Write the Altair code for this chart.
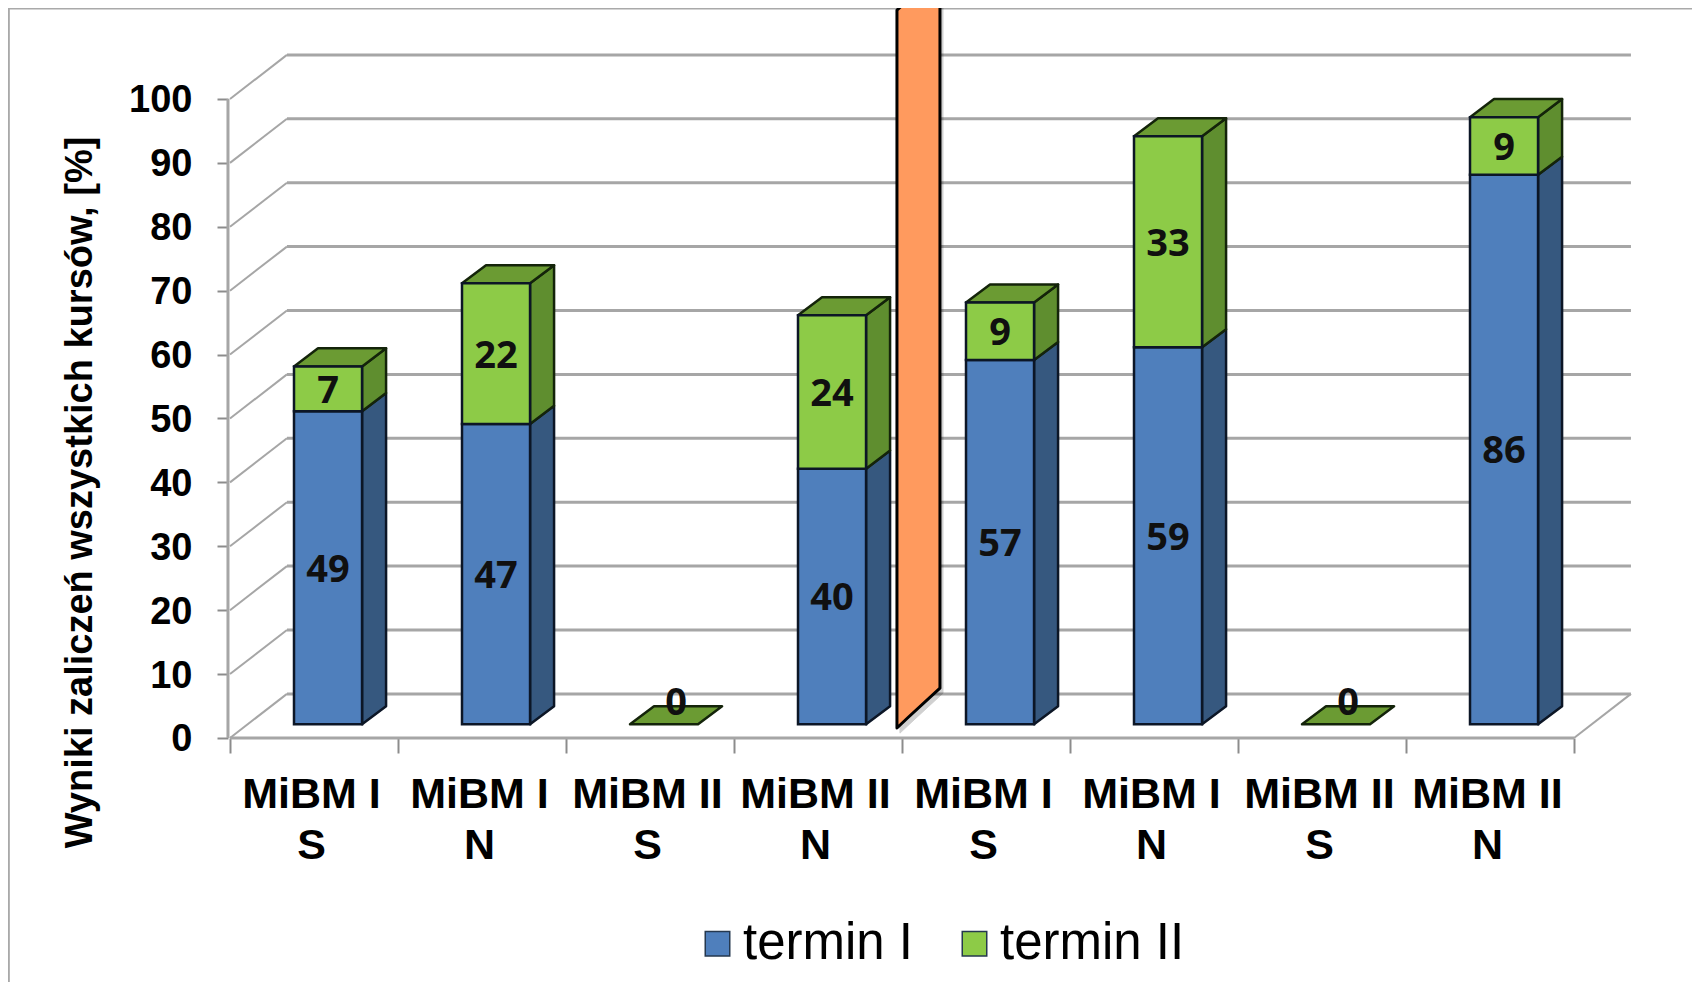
import json
import altair as alt
import pandas as pd

categories = ["MiBM I|S", "MiBM I|N", "MiBM II|S", "MiBM II|N", "MiBM I|S", "MiBM I|N", "MiBM II|S", "MiBM II|N"]
termin_1 = [49, 47, 0, 40, 57, 59, 0, 86]
termin_2 = [7, 22, 0, 24, 9, 33, 0, 9]
y_ticks = list(range(0, 101, 10))
series_names = ["termin I", "termin II"]
series_colors = ["#4F7FBC", "#8DCB47"]

# chart geometry, in data units (category widths / percent)
X_DOMAIN = [-1.3214, 8.7024]
Y_DOMAIN = [-38.19, 114.24]
WALL_DX, WALL_DY = 0.339, 6.9
BAR_OFFSET, BAR_WIDTH = 0.381, 0.405
DEPTH_DX, DEPTH_DY = 0.143, 2.83
LIFT = 2.15

x_scale = alt.Scale(domain=X_DOMAIN, nice=False, zero=False)
y_scale = alt.Scale(domain=Y_DOMAIN, nice=False, zero=False)

# x axis labels and ticks
label_expr = f"split({json.dumps(categories)}[datum.value] || '', '|')"
x_axis = alt.Axis(values=list(range(9)), labelExpr=label_expr, labelOffset=81, labelFontSize=43,
                  labelFont="Liberation Sans", labelFontWeight="bold", labelColor="#000000",
                  labelPadding=20, labelLineHeight=51, labelBaseline="top", labelOverlap=False,
                  labelFlush=False, labelBound=False, labelLimit=500, labelAngle=0,
                  tickColor="#8c8c8c", tickSize=15, tickWidth=2, domain=False, grid=False,
                  offset=-244, title=None)
y_axis = alt.Axis(values=y_ticks, labelFontSize=38, labelFont="Liberation Sans", labelFontWeight="bold",
                  labelColor="#000000", labelPadding=25, labelOffset=2, labelOverlap=False, labelFlush=False,
                  labelBound=False, tickColor="#8c8c8c", tickSize=11, tickWidth=2, domain=False, grid=False,
                  offset=-220, title="Wyniki zaliczeń wszystkich kursów, [%]", titleFont="Liberation Sans",
                  titleFontSize=38, titleFontWeight="bold", titleColor="#000000", titleAngle=270,
                  titleX=-148, titleY=484, titleAlign="center", titleBaseline="middle")

X = alt.X("x:Q", scale=x_scale, axis=x_axis)
Y = alt.Y("y:Q", scale=y_scale, axis=y_axis)


def lines(rows, color, width):
    df = pd.DataFrame(rows, columns=["id", "x", "y"])
    return alt.Chart(df).mark_line(color=color, strokeWidth=width).encode(x=X, y=Y, detail="id:N")


grid_rows, diag_rows = [], []
for v in y_ticks:
    grid_rows += [(f"g{v}", WALL_DX, v + WALL_DY), (f"g{v}", 8 + WALL_DX, v + WALL_DY)]
    diag_rows += [(f"d{v}", 0, v), (f"d{v}", WALL_DX, v + WALL_DY)]
diag_rows += [("r", 8, 0), ("r", 8 + WALL_DX, WALL_DY)]
front_rows = [("a", 0, 0), ("a", 8, 0), ("b", -0.012, 0), ("b", -0.012, 100)]
frame_rows = [("t", X_DOMAIN[0], Y_DOMAIN[1]), ("t", X_DOMAIN[1], Y_DOMAIN[1]),
              ("l", X_DOMAIN[0] + 0.002, Y_DOMAIN[0]), ("l", X_DOMAIN[0] + 0.002, Y_DOMAIN[1])]

front, sides, tops, texts = [], {0: [], 1: []}, [], []
for i, (a, b) in enumerate(zip(termin_1, termin_2)):
    x0 = i + BAR_OFFSET
    x1 = x0 + BAR_WIDTH
    stack = [(0, a), (a, a + b)]
    for s, (lo, hi) in enumerate(stack):
        val = [a, b][s]
        if val > 0:
            front.append(dict(x=x0, x2=x1, y=lo + LIFT, y2=hi + LIFT, term=series_names[s]))
            sides[s] += [
                dict(id=f"{i}", x=x1, y=lo + LIFT, y2=hi + LIFT),
                dict(id=f"{i}", x=x1 + DEPTH_DX, y=lo + LIFT + DEPTH_DY, y2=hi + LIFT + DEPTH_DY),
            ]
            texts.append(dict(x=(x0 + x1) / 2, y=(lo + hi) / 2 + LIFT, label=str(val)))
    top = a + b + LIFT
    tops += [
        dict(id=f"{i}", x=x0, y=top, y2=top),
        dict(id=f"{i}", x=x0 + DEPTH_DX, y=top, y2=top + DEPTH_DY),
        dict(id=f"{i}", x=x1, y=top, y2=top + DEPTH_DY),
        dict(id=f"{i}", x=x1 + DEPTH_DX, y=top + DEPTH_DY, y2=top + DEPTH_DY),
    ]
    if a + b == 0:
        texts.append(dict(x=(x0 + x1 + DEPTH_DX) / 2, y=LIFT + 3.6, label="0"))


def area(rows, fill, stroke, width=2.5, opacity=1):
    return alt.Chart(pd.DataFrame(rows)).mark_area(
        fill=fill, stroke=stroke, strokeWidth=width, strokeJoin="round", opacity=opacity
    ).encode(x=X, y=alt.Y("y:Q", scale=y_scale, axis=y_axis, stack=None), y2="y2:Q", detail="id:N")


front_layer = alt.Chart(pd.DataFrame(front)).mark_rect(stroke="#0c1626", strokeWidth=2.5).encode(
    x=X, x2="x2:Q", y=Y, y2="y2:Q",
    color=alt.Color("term:N", scale=alt.Scale(domain=series_names, range=series_colors),
                    legend=alt.Legend(orient="none", legendX=684, legendY=910, direction="horizontal",
                                      columns=2, title=None, symbolType="square", symbolSize=600,
                                      symbolStrokeColor="#25384f", symbolStrokeWidth=1.5,
                                      labelFont="Liberation Sans", labelFontSize=51, labelColor="#000000",
                                      labelOffset=0, columnPadding=35, labelLimit=400)),
)

text_layer = alt.Chart(pd.DataFrame(texts)).mark_text(
    font="Open Sans", fontSize=38, fontWeight="bold", color="#101010", baseline="middle", align="center", dy=3
).encode(x=X, y=Y, text="label:N")

# orange divider shape
orange_x = [3.97, 4.036, 4.226]
orange_bottom = [1.56, 3.2, 7.8]
orange_top = [113.9, 115.5, 115.5]
orange_rows = [dict(id="o", x=a, y=b, y2=c) for a, b, c in zip(orange_x, orange_bottom, orange_top)]
shadow_rows = [dict(id="s", x=a + 0.018, y=b - 0.8, y2=c) for a, b, c in zip(orange_x, orange_bottom, orange_top)]

chart = alt.layer(
    lines(frame_rows, "#a9a9a9", 3),
    lines(grid_rows, "#a6a6a6", 3),
    lines(diag_rows, "#a6a6a6", 2),
    lines(front_rows, "#a6a6a6", 3),
    area(sides[0], "#36587F", "#0c1626"),
    area(sides[1], "#5F8E2F", "#14240a"),
    area(tops, "#6B9B33", "#14240a"),
    front_layer,
    text_layer,
    area(shadow_rows, "#000000", "#000000", width=1, opacity=0.18),
    area(orange_rows, "#FF9A5E", "#000000", width=3),
).properties(
    width=1684, height=974, padding=0,
    autosize=alt.AutoSizeParams(type="none"),
).configure_view(stroke=None)

chart.save("out.html", embed_options={"renderer": "svg", "actions": False})
